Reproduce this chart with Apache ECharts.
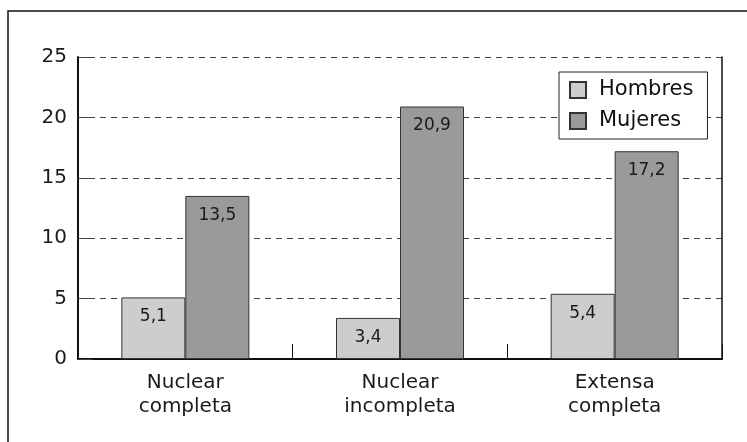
<!DOCTYPE html>
<html>
<head>
<meta charset="utf-8">
<script src="https://cdn.jsdelivr.net/npm/echarts@6/dist/echarts.min.js"></script>
<style>
  html, body { margin: 0; padding: 0; background: #fff; }
  #chart { width: 747px; height: 442px; }
</style>
</head>
<body>
<div id="chart"></div>
<script>
// datos
var categorias = ['Nuclear\ncompleta', 'Nuclear\nincompleta', 'Extensa\ncompleta'];
var hombres = [5.1, 3.4, 5.4];
var mujeres = [13.5, 20.9, 17.2];
var yTicks = [0, 5, 10, 15, 20, 25];

var fuente = 'DejaVu Sans, Liberation Sans, Arial, sans-serif';

function coma(p) {
	return String(p.value).replace('.', ',');
}

var chart = echarts.init(document.getElementById('chart'));
var option = {
	animation: false,
	backgroundColor: '#fff',
	textStyle: { fontFamily: fuente },
	graphic: [{
		// marco exterior (solo se ven arriba e izquierda)
		type: 'rect',
		shape: { x: 8, y: 11, width: 800, height: 500 },
		style: { fill: 'none', stroke: '#111', lineWidth: 1.5 },
		silent: true
	}],
	grid: { left: 78, right: 25, top: 57, bottom: 83 },
	legend: {
		orient: 'vertical',
		left: 559,
		top: 72,
		padding: [7, 14, 7, 10],
		itemGap: 9,
		itemWidth: 16,
		itemHeight: 16,
		borderColor: '#222',
		borderWidth: 1,
		backgroundColor: '#fff',
		icon: 'rect',
		textStyle: { fontFamily: fuente, fontSize: 21, color: '#111', lineHeight: 22, padding: [0, 0, 0, 8] },
		data: ['Hombres', 'Mujeres']
	},
	xAxis: {
		type: 'category',
		data: categorias,
		axisLine: { lineStyle: { color: '#111', width: 2 } },
		axisTick: { show: true, inside: true, length: 15, lineStyle: { color: '#111' } },
		axisLabel: { fontFamily: fuente, fontSize: 20, color: '#1a1a1a', lineHeight: 24, margin: 12 }
	},
	yAxis: [{
		type: 'value',
		min: yTicks[0],
		max: yTicks[yTicks.length - 1],
		interval: 5,
		axisLine: { show: true, lineStyle: { color: '#111', width: 2 } },
		axisTick: { show: true, inside: true, length: 14, lineStyle: { color: '#444' } },
		axisLabel: { fontFamily: fuente, fontSize: 20, color: '#1a1a1a', margin: 11 },
		splitLine: { show: true, lineStyle: { color: '#444', type: [6, 5], width: 1 } }
	}, {
		type: 'value',
		min: yTicks[0],
		max: yTicks[yTicks.length - 1],
		interval: 5,
		position: 'right',
		axisLine: { show: true, lineStyle: { color: '#111', width: 1.5 } },
		axisTick: { show: false },
		axisLabel: { show: false },
		splitLine: { show: false }
	}],
	series: [{
		name: 'Hombres',
		type: 'bar',
		data: hombres,
		barWidth: 64,
		barGap: '0%',
		itemStyle: { color: '#cdcdcd', borderColor: '#333', borderWidth: 1 },
		label: {
			show: true,
			position: 'insideTop',
			distance: 11,
			fontFamily: fuente,
			fontSize: 17,
			color: '#1a1a1a',
			formatter: coma
		}
	}, {
		name: 'Mujeres',
		type: 'bar',
		data: mujeres,
		barWidth: 64,
		barGap: '0%',
		itemStyle: { color: '#9a9a9a', borderColor: '#333', borderWidth: 1 },
		label: {
			show: true,
			position: 'insideTop',
			distance: 11,
			fontFamily: fuente,
			fontSize: 17,
			color: '#1a1a1a',
			formatter: coma
		}
	}]
};
chart.setOption(option);
</script>
</body>
</html>
